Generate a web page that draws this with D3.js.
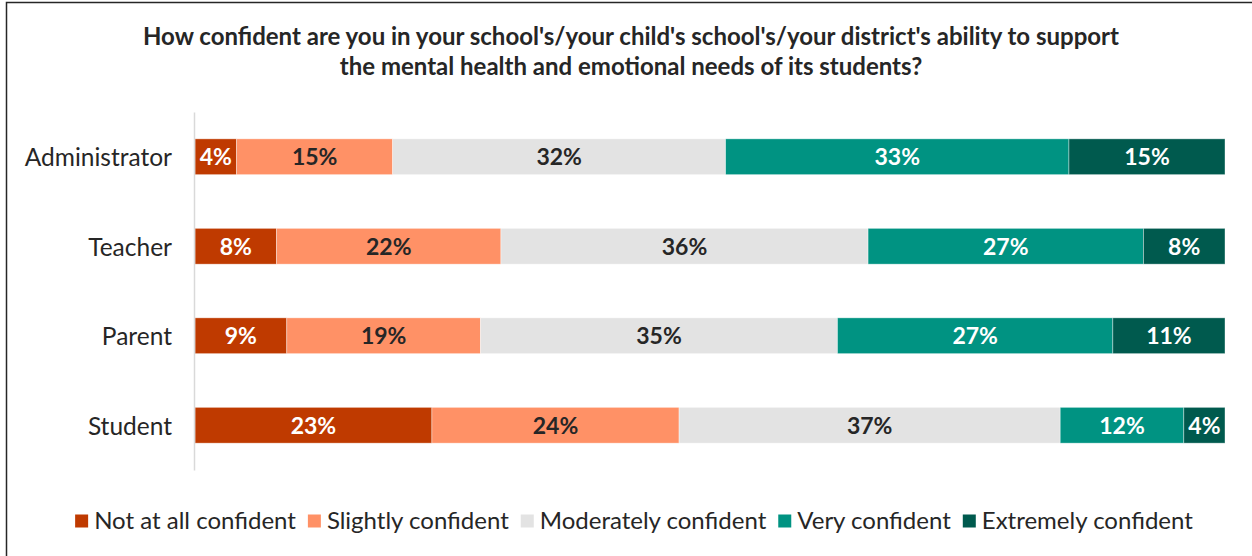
<!DOCTYPE html>
<html>
<head>
<meta charset="utf-8">
<script src="https://cdn.jsdelivr.net/npm/d3@7"></script>
<style>
  html, body { margin: 0; padding: 0; background: #fff; }
  svg { display: block; font-family: Lato, "Open Sans", sans-serif; }
</style>
</head>
<body>
<svg id="chart" width="1252" height="556"></svg>
<script>
// Survey responses (percent of respondents) per group
const groups = ["Administrator", "Teacher", "Parent", "Student"];
const levels = ["Not at all confident", "Slightly confident", "Moderately confident", "Very confident", "Extremely confident"];
const notAtAll   = [4, 8, 9, 23];
const slightly   = [15, 22, 19, 24];
const moderately = [32, 36, 35, 37];
const very       = [33, 27, 27, 12];
const extremely  = [15, 8, 11, 4];
const titleLines = [
  "How confident are you in your school's/your child's school's/your district's ability to support",
  "the mental health and emotional needs of its students?"
];

const colors = ["#BF3A00", "#FF9166", "#E3E3E3", "#009382", "#005A4E"];
const labelColors = ["#ffffff", "#262626", "#262626", "#ffffff", "#ffffff"];

const seriesValues = [notAtAll, slightly, moderately, very, extremely];
const rows = groups.map((g, i) => {
  const row = { group: g };
  levels.forEach((lv, k) => { row[lv] = seriesValues[k][i]; });
  return row;
});

const svg = d3.select("#chart");
const W = 1252, H = 556;

// frame
svg.append("path")
  .attr("d", `M6.5,${H} V2.5 H${W}`)
  .attr("fill", "none")
  .attr("stroke", "#262626")
  .attr("stroke-width", 1.5);

// title
svg.append("text")
  .attr("x", 631).attr("y", 45)
  .attr("text-anchor", "middle")
  .attr("fill", "#262626")
  .style("font-size", "24px").style("font-weight", 700)
  .selectAll("tspan").data(titleLines).join("tspan")
  .attr("x", 631).attr("dy", (d, i) => i === 0 ? 0 : 30)
  .text(d => d);

const x0 = 195, x1 = 1225;
const y = d3.scaleBand().domain(groups).range([112, 470]).paddingInner(0.6).paddingOuter(0.3);

// each row is scaled to its own total so bars span the full width
const stack = d3.stack().keys(levels)
  .offset(d3.stackOffsetExpand);
const layers = stack(rows);
const x = d3.scaleLinear().domain([0, 1]).range([x0, x1]);

const g = svg.append("g");
layers.forEach((layer, k) => {
  const lg = g.append("g");
  lg.selectAll("rect").data(layer).join("rect")
    .attr("x", d => x(d[0]))
    .attr("y", d => y(d.data.group))
    .attr("width", d => x(d[1]) - x(d[0]))
    .attr("height", y.bandwidth())
    .attr("fill", colors[k])
    .attr("stroke", "#ffffff")
    .attr("stroke-opacity", 0.5)
    .attr("stroke-width", 0.75);
  lg.selectAll("text").data(layer).join("text")
    .attr("x", d => (x(d[0]) + x(d[1])) / 2)
    .attr("y", d => y(d.data.group) + y.bandwidth() / 2)
    .attr("dy", "0.36em")
    .attr("text-anchor", "middle")
    .attr("fill", labelColors[k])
    .style("font-size", "23px").style("font-weight", 700)
    .text(d => d.data[levels[k]] + "%");
});

// category axis
const axis = d3.axisLeft(y).tickSize(0).tickPadding(22);
const ag = svg.append("g").attr("transform", `translate(${x0 - 1},0)`).call(axis);
ag.select(".domain").attr("stroke", "#D9D9D9").attr("stroke-width", 1.5);
ag.selectAll("text")
  .attr("fill", "#262626")
  .attr("dy", "0.38em")
  .style("font-size", "24.5px")
  .style("font-family", "Lato, sans-serif");

// legend, centred under the plot
const legend = svg.append("g").attr("transform", "translate(0,521)");
let lx = 0;
levels.forEach((lv, k) => {
  legend.append("rect")
    .attr("x", lx).attr("y", -6.5)
    .attr("width", 13).attr("height", 13)
    .attr("fill", colors[k]);
  const t = legend.append("text")
    .attr("x", lx + 19).attr("y", 0).attr("dy", "0.35em")
    .attr("fill", "#262626")
    .style("font-size", "24px")
    .text(lv);
  lx += 19 + t.node().getComputedTextLength() + 12;
});
const legendWidth = lx - 12;
legend.attr("transform", `translate(${634 - legendWidth / 2},521)`);
</script>
</body>
</html>
